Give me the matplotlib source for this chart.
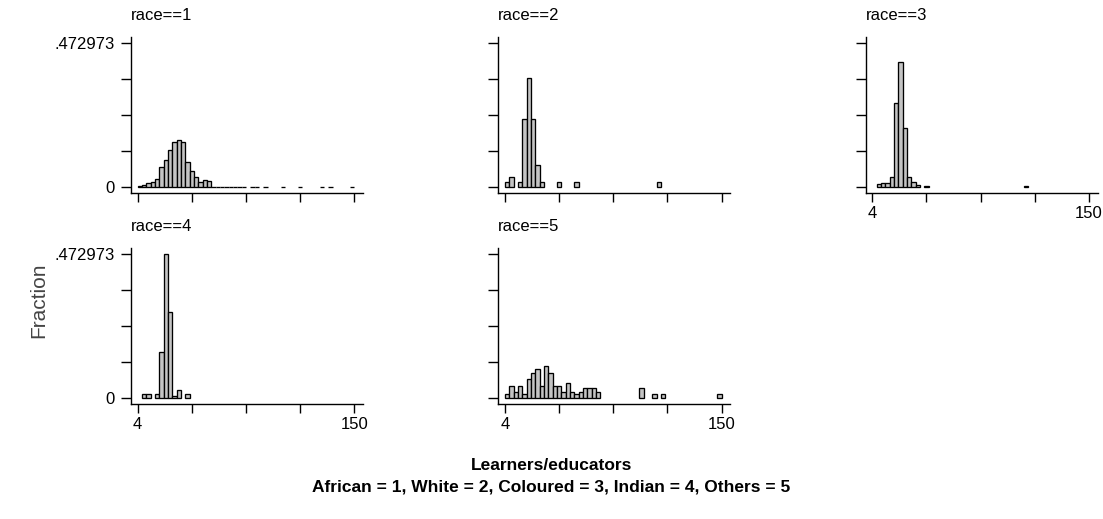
import numpy as np
import matplotlib
matplotlib.use("Agg")
import matplotlib.pyplot as plt
from matplotlib.transforms import ScaledTranslation

plt.rcParams['font.family'] = ['Liberation Sans', 'DejaVu Sans']

# histogram bins: 50 bins from 4 to 150
lo, hi, nbins = 4, 150, 50
ymax = 0.472973

race_labels = ["race==1", "race==2", "race==3", "race==4", "race==5"]

# fraction per bin (bin index -> fraction)
race1 = {0: 0.004, 1: 0.007, 2: 0.013, 3: 0.018, 4: 0.027, 5: 0.068, 6: 0.090,
         7: 0.123, 8: 0.150, 9: 0.155, 10: 0.148, 11: 0.084, 12: 0.054,
         13: 0.035, 14: 0.019, 15: 0.024, 16: 0.021, 17: 0.002, 18: 0.002,
         19: 0.002, 20: 0.002, 21: 0.002, 22: 0.002, 23: 0.002, 24: 0.001,
         26: 0.001, 27: 0.001, 29: 0.001, 33: 0.001, 37: 0.001, 42: 0.001,
         44: 0.001, 49: 0.001}
race2 = {0: 0.019, 1: 0.035, 3: 0.019, 4: 0.223, 5: 0.358, 6: 0.223, 7: 0.073,
         8: 0.019, 12: 0.019, 16: 0.019, 35: 0.019}
race3 = {1: 0.010, 2: 0.013, 3: 0.013, 4: 0.035, 5: 0.276, 6: 0.410, 7: 0.194,
         8: 0.035, 9: 0.019, 10: 0.008, 12: 0.003, 35: 0.003}
race4 = {1: 0.013, 2: 0.013, 4: 0.013, 5: 0.151, 6: 0.472973, 7: 0.284,
         8: 0.008, 9: 0.027, 11: 0.013}
race5 = {0: 0.014, 1: 0.042, 2: 0.022, 3: 0.042, 4: 0.014, 5: 0.063, 6: 0.084,
         7: 0.095, 8: 0.042, 9: 0.107, 10: 0.084, 11: 0.042, 12: 0.042,
         13: 0.022, 14: 0.051, 15: 0.022, 16: 0.014, 17: 0.022, 18: 0.035,
         19: 0.035, 20: 0.035, 21: 0.022, 31: 0.035, 34: 0.014, 36: 0.014,
         49: 0.014}
races = [race1, race2, race3, race4, race5]

W, H = 1103, 519
fig = plt.figure(figsize=(W / 100, H / 100), dpi=100)

edges = np.linspace(lo, hi, nbins + 1)
bw = edges[1] - edges[0]

# panel placement in pixels: (left, top) of each axes box
ax_w, ax_h = 232, 156.3
col_x = [131, 498.3, 865.6]
row_y = [37, 248]
xlim = (-0.52, 155.9)
ylim = (-0.0197, 0.4937)

for i, (lab, data) in enumerate(zip(race_labels, races)):
    r, c = divmod(i, 3)
    left = col_x[c] / W
    bottom = 1 - (row_y[r] + ax_h) / H
    ax = fig.add_axes([left, bottom, ax_w / W, ax_h / H])

    idx = np.array(sorted(data.keys()))
    vals = np.array([data[k] for k in idx])
    ax.bar(edges[idx], vals, width=bw, align='edge', color='#c4c4c4',
           edgecolor='black', linewidth=0.95)

    ax.set_xlim(*xlim)
    ax.set_ylim(*ylim)
    for s in ['top', 'right']:
        ax.spines[s].set_visible(False)
    for s in ['left', 'bottom']:
        ax.spines[s].set_linewidth(1.0)

    ax.set_yticks(np.linspace(0, ymax, 5))
    if c == 0:
        ax.set_yticklabels(['0', '', '', '', '.472973'])
    else:
        ax.set_yticklabels([])
    ax.set_xticks(np.linspace(lo, hi, 5))
    if i >= 2:
        ax.set_xticklabels(['4', '', '', '', '150'])
        lbl = ax.get_xticklabels()[-1]
        lbl.set_transform(lbl.get_transform() +
                          ScaledTranslation(-5 / 100, 0, fig.dpi_scale_trans))
    else:
        ax.set_xticklabels([])
    ax.tick_params(axis='y', length=7.5, width=1.0, pad=4, labelsize=12)
    ax.tick_params(axis='x', length=6.5, width=1.0, pad=3, labelsize=12)

    ax.set_title(lab, loc='left', fontsize=12, pad=12)

fig.text(39 / W, 1 - 300 / H, "Fraction", rotation=90, ha='center',
         va='center', fontsize=15, color='#444444')
fig.text(0.5, 1 - 466 / H, "Learners/educators", ha='center', va='center',
         fontsize=12.5, fontweight='bold')
fig.text(0.5, 1 - 487 / H,
         "African = 1, White = 2, Coloured = 3, Indian = 4, Others = 5",
         ha='center', va='center', fontsize=12.5, fontweight='bold')

fig.savefig("out.png", dpi=100)
